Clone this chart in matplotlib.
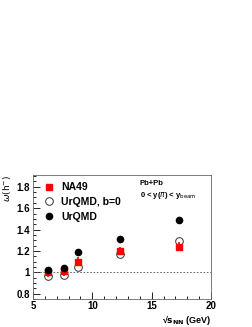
import matplotlib
matplotlib.use("Agg")
import matplotlib.pyplot as plt
from matplotlib.ticker import MultipleLocator
from matplotlib.lines import Line2D

energy = [6.3, 7.6, 8.8, 12.3, 17.3]
na49 = [1.00, 1.01, 1.10, 1.20, 1.24]
na49_err = [0.04, 0.04, 0.04, 0.04, 0.04]
urqmd_b0 = [0.97, 0.98, 1.05, 1.17, 1.29]
urqmd = [1.02, 1.04, 1.19, 1.31, 1.49]

plt.rcParams['font.family'] = ['Liberation Sans', 'DejaVu Sans']
fig = plt.figure(figsize=(2.53, 3.27), dpi=100)
ax = fig.add_axes([0.130, 0.085, 0.704, 0.380])

ax.axhline(1.0, color='#555555', lw=0.6, ls=(0, (2, 2)))
ax.errorbar(energy, na49, yerr=na49_err, fmt='s', color='red', ms=5,
            elinewidth=1.2, capsize=0, zorder=3)
ax.plot(energy, urqmd_b0, 'o', mfc='white', mec='#333333', mew=0.7, ms=5.5,
        zorder=2)
ax.plot(energy, urqmd, 'o', color='black', ms=4.5, zorder=4)

ax.set_xlim(5, 20)
ax.set_ylim(0.75, 1.91)
ax.xaxis.set_minor_locator(MultipleLocator(1))
ax.yaxis.set_minor_locator(MultipleLocator(0.05))
ax.tick_params(which='both', direction='in', top=False, right=False,
               labelsize=7, width=0.6)
ax.tick_params(which='major', length=5)
ax.tick_params(which='minor', length=2.5)
ax.tick_params(axis='x', pad=1.0)
ax.tick_params(axis='y', pad=2)
ax.set_xticks([5, 10, 15, 20])
ax.set_xticklabels(['5', '10', '15', '20'], fontweight='bold')
ax.set_yticks([0.8, 1.0, 1.2, 1.4, 1.6, 1.8])
ax.set_yticklabels(['0.8', '1', '1.2', '1.4', '1.6', '1.8'], fontweight='bold')
for s in ax.spines.values():
    s.set_linewidth(0.6)
    s.set_color('#666666')

fig.text(0.834, 0.0, '√' + r'$\mathbf{s}_{\mathbf{NN}}$' + ' (GeV)', fontsize=6.5,
         fontweight='bold', ha='right', va='bottom')
fig.text(0.005, 0.465, r'$\omega(\mathrm{h}^{-})$', fontsize=6.5, rotation=90,
         ha='left', va='top')

handles = [
    Line2D([], [], marker='s', ls='none', color='red', ms=5),
    Line2D([], [], marker='o', ls='none', mfc='white', mec='#333333', mew=0.7, ms=5.5),
    Line2D([], [], marker='o', ls='none', color='black', ms=4.5),
]
labels = ['NA49', 'UrQMD, b=0', 'UrQMD']
leg = ax.legend(handles, labels, loc='upper left', frameon=False, fontsize=7.5,
                handletextpad=0.6, borderaxespad=0.2, labelspacing=0.45,
                handlelength=1.2, bbox_to_anchor=(0.02, 0.99))
for t in leg.get_texts():
    t.set_fontweight('bold')

ax.text(0.60, 0.96, 'Pb+Pb', transform=ax.transAxes, fontsize=5.5,
        fontweight='bold', va='top')
ax.text(0.60, 0.88, r'0 < y($\pi$) < y$_{\mathrm{beam}}$', transform=ax.transAxes,
        fontsize=5.5, fontweight='bold', va='top')

fig.savefig('out.png', dpi=100)
